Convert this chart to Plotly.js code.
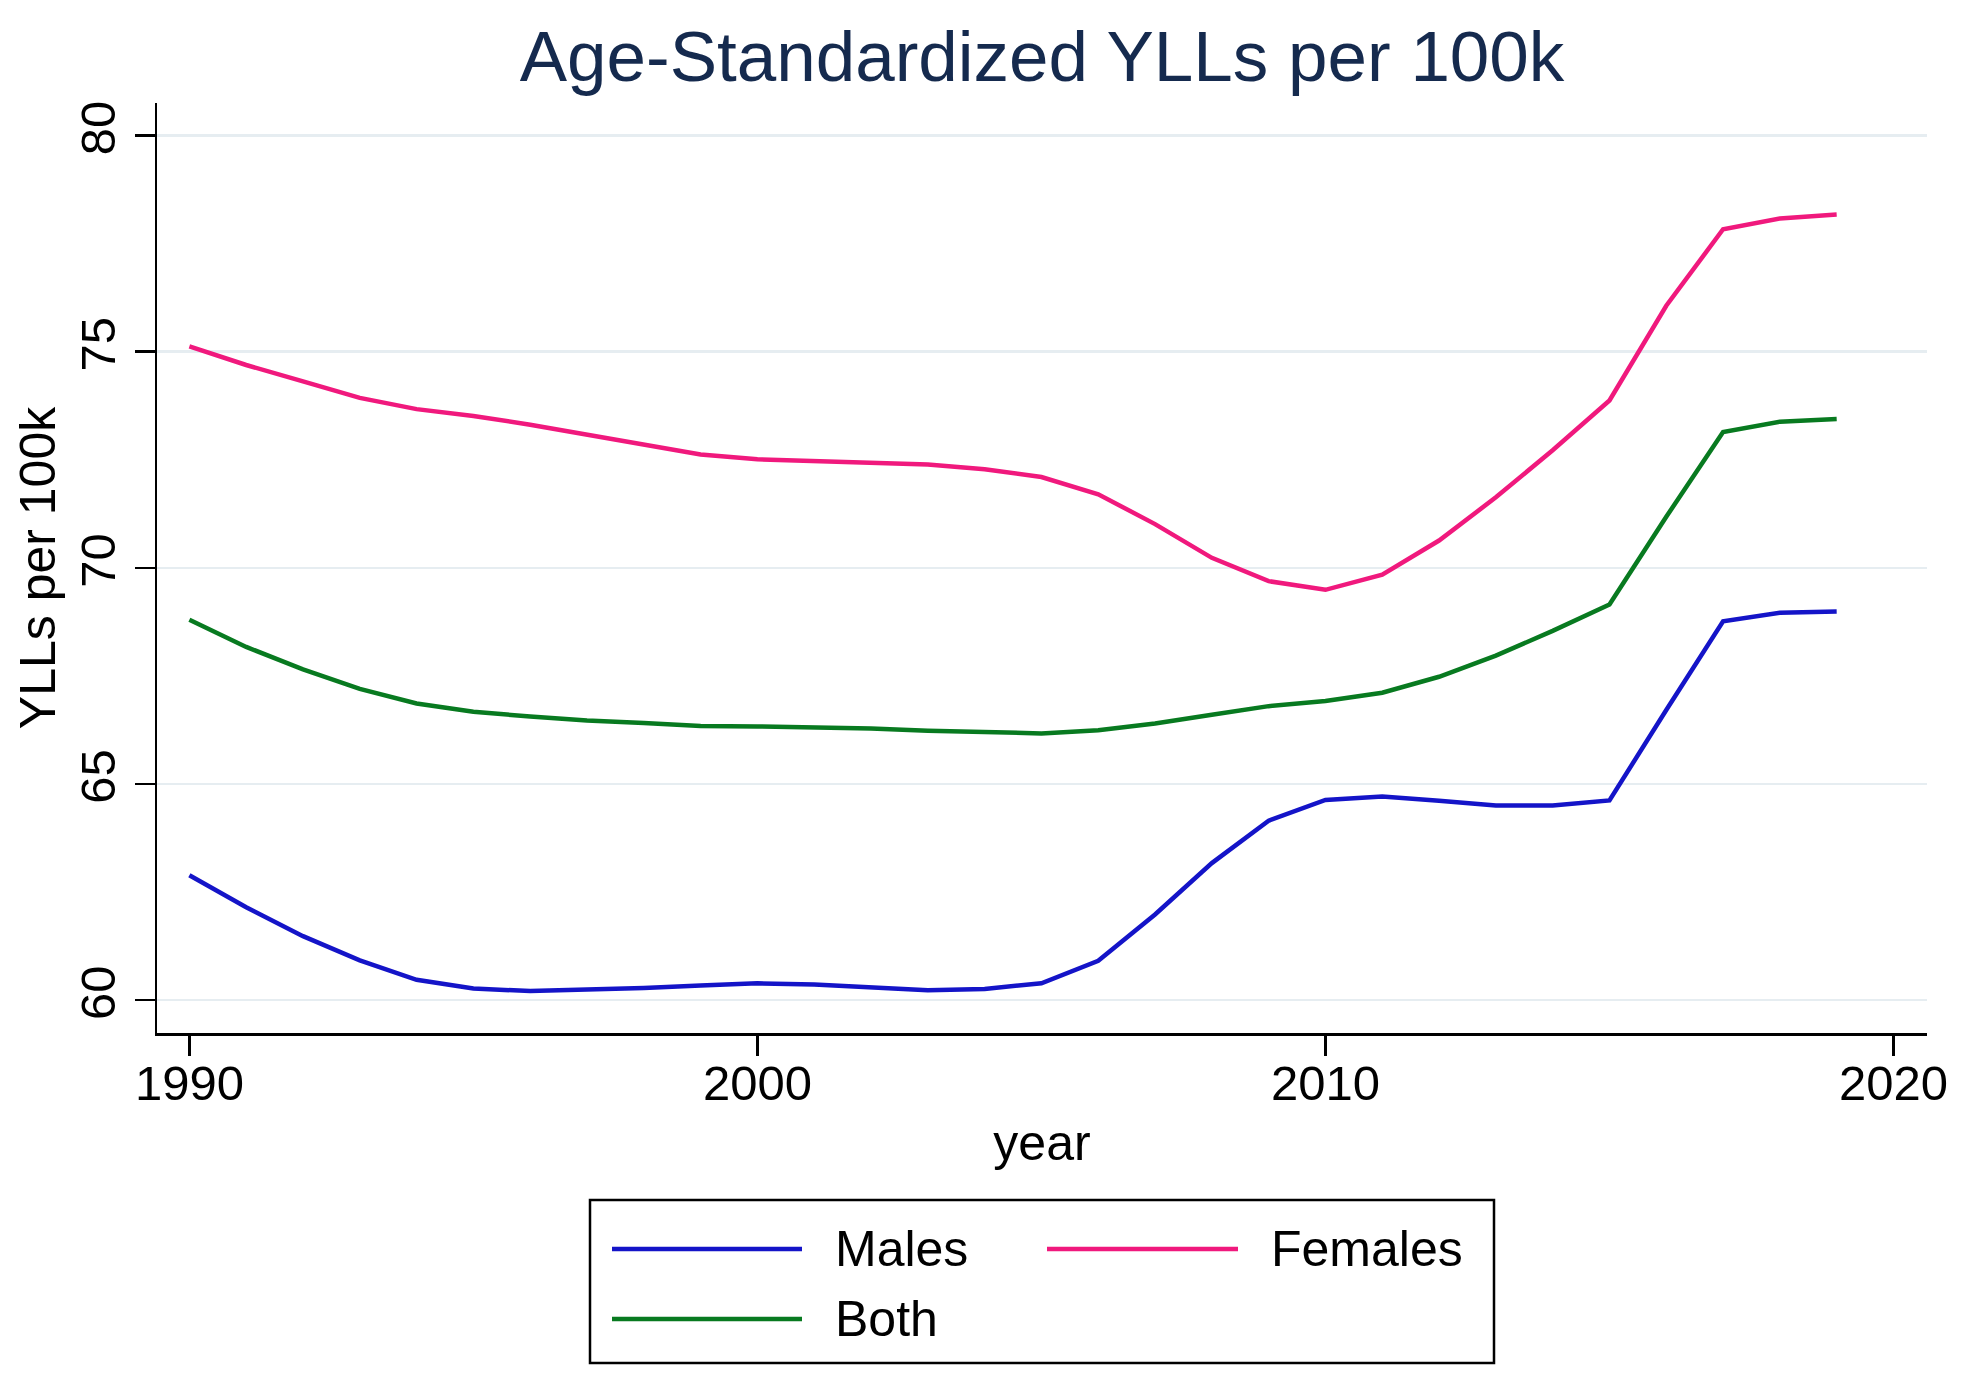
<!DOCTYPE html>
<html>
<head>
<meta charset="utf-8">
<script src="https://cdn.plot.ly/plotly-3.0.1.min.js"></script>
<style>html,body{margin:0;padding:0;background:#fff;}#chart{width:1964px;height:1393px;}</style>
</head>
<body>
<div id="chart"></div>
<script>
var years = [1990,1991,1992,1993,1994,1995,1996,1997,1998,1999,2000,2001,2002,2003,2004,2005,2006,2007,2008,2009,2010,2011,2012,2013,2014,2015,2016,2017,2018,2019];
var males = [62.89,62.15,61.48,60.92,60.47,60.27,60.21,60.24,60.28,60.34,60.39,60.36,60.30,60.23,60.26,60.39,60.91,61.98,63.17,64.15,64.63,64.71,64.61,64.50,64.50,64.62,66.71,68.76,68.96,68.99];
var females = [75.12,74.69,74.31,73.93,73.67,73.51,73.31,73.08,72.86,72.62,72.51,72.47,72.42,72.39,72.28,72.10,71.70,71.01,70.23,69.69,69.49,69.84,70.63,71.63,72.72,73.87,76.06,77.83,78.08,78.17];
var both = [68.80,68.17,67.65,67.20,66.86,66.67,66.56,66.47,66.41,66.34,66.33,66.31,66.28,66.23,66.19,66.17,66.24,66.40,66.60,66.80,66.92,67.11,67.48,67.97,68.54,69.15,71.18,73.14,73.38,73.44];
var seriesNames = ['Males','Females','Both'];
var seriesColors = ['#1414c8','#f0197d','#087a20'];
var xTicks = [1990,2000,2010,2020];
var yTicks = [60,65,70,75,80];

var seriesData = [males, females, both];
var traces = seriesData.map(function(vals, i){
  return {x: years, y: vals, type: 'scatter', mode: 'lines', name: seriesNames[i],
          line: {color: seriesColors[i], width: 4.5}, showlegend: false};
});

var FONT = 'Liberation Sans, Arial, Helvetica, sans-serif';
// custom legend (Stata style box) built from names/colours
var W = 1770, H = 930, L = 157, T = 103;
function px(x){ return (x - L) / W; }
function py(y){ return (T + H - y) / H; }
var legendPos = [
  {lx0: 612, lx1: 802, tx: 833, y: 1249},
  {lx0: 1047, lx1: 1238, tx: 1269, y: 1249},
  {lx0: 612, lx1: 802, tx: 833, y: 1319}
];
var shapes = [{type:'rect', xref:'paper', yref:'paper', x0:px(590), x1:px(1494), y0:py(1363), y1:py(1200),
  line:{color:'#000', width:2.5}, fillcolor:'rgba(0,0,0,0)'}];
var annotations = [];
legendPos.forEach(function(p, i){
  shapes.push({type:'line', xref:'paper', yref:'paper', x0:px(p.lx0), x1:px(p.lx1), y0:py(p.y), y1:py(p.y),
    line:{color: seriesColors[i], width: 4.5}});
  annotations.push({xref:'paper', yref:'paper', x:px(p.tx), y:py(p.y), xanchor:'left', yanchor:'middle',
    text: seriesNames[i], showarrow:false, font:{family:FONT, size:50, color:'#000'}});
});

var layout = {
  width: 1964, height: 1393,
  margin: {l: 157, r: 37, t: 103, b: 360},
  paper_bgcolor: '#fff', plot_bgcolor: '#fff',
  title: {text: 'Age-Standardized YLLs per 100k', x: 0.5, xref: 'paper', y: 1 - 56/1393, yanchor: 'middle',
          font: {family: FONT, size: 71, color: '#152a4e'}},
  xaxis: {range: [1989.43, 2020.59], tickvals: xTicks, ticktext: xTicks.map(String),
          showgrid: false, zeroline: false, showline: true, linecolor: '#000', linewidth: 2.5,
          ticks: 'outside', ticklen: 20, tickwidth: 2.5, tickcolor: '#000', ticklabelstandoff: -14,
          tickfont: {family: FONT, size: 49, color: '#000'},
          title: {text: 'year', font: {family: FONT, size: 50, color: '#000'}, standoff: 16}},
  yaxis: {range: [59.24, 80.75], tickvals: yTicks, ticktext: yTicks.map(String), tickangle: -90,
          showgrid: true, gridcolor: '#e6edf1', gridwidth: 2.5, zeroline: false,
          showline: true, linecolor: '#000', linewidth: 2.5,
          ticks: 'outside', ticklen: 20, tickwidth: 2.5, tickcolor: '#000',
          tickfont: {family: FONT, size: 49, color: '#000'},
          title: {text: 'YLLs per 100k', font: {family: FONT, size: 50, color: '#000'}, standoff: 0}},
  shapes: shapes,
  annotations: annotations,
  showlegend: false
};
Plotly.newPlot('chart', traces, layout, {displayModeBar: false, staticPlot: true});
</script>
</body>
</html>
